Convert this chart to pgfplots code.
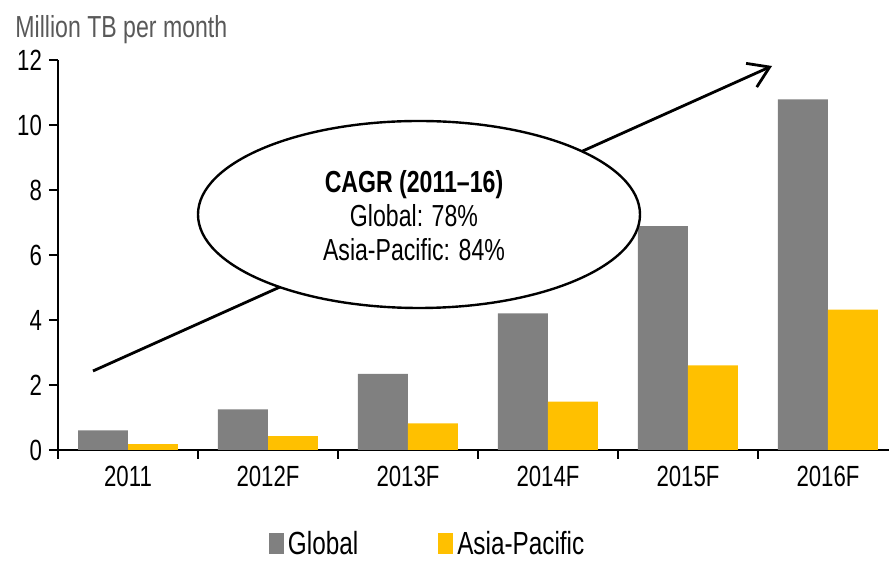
\documentclass[border=0pt]{standalone}
\usepackage{fontspec}
\setmainfont{Liberation Sans}[FakeStretch=0.76]
\usepackage{pgfplots}
\pgfplotsset{compat=1.18}
\usetikzlibrary{arrows.meta}
\definecolor{cgray}{HTML}{808080}
\definecolor{cgold}{HTML}{FFC000}
\definecolor{ctitle}{HTML}{595959}
\begin{document}
\begin{tikzpicture}
\path[use as bounding box] (-29pt,-55.5pt) rectangle (415.5pt,225pt);
\begin{axis}[
  at={(0,0)}, anchor=south west,
  scale only axis, width=415.5pt, height=195pt,
  xmin=-0.5, xmax=5.436, ymin=0, ymax=12,
  axis lines*=left,
  axis line style={line width=1pt},
  ytick={0,2,...,12},
  xtick={0,...,5},
  xticklabels={2011,2012F,2013F,2014F,2015F,2016F},
  minor xtick={-0.5,0.5,...,4.5},
  major x tick style={draw=none},
  minor x tick style={line width=1pt, black},
  major y tick style={line width=1pt, black},
  tick align=outside,
  major tick length=4.5pt, minor tick length=4.5pt,
  /pgf/number format/assume math mode=true,
  tick label style={font=\fontsize{14.6}{17}\selectfont},
  ybar, bar width=0.357,
  legend columns=2,
  legend style={at={(0.446,-0.243)}, anchor=center, draw=none,
    font=\fontsize{16}{19}\selectfont,
    nodes={inner xsep=2pt, inner ysep=0pt},
    /tikz/every even column/.append style={column sep=38pt}},
  legend image code/.code={\fill[#1] (0pt,-4.5pt) rectangle (7.5pt,6pt);},
]
\addplot[fill=cgray, draw=none, bar shift=-0.1786] coordinates {(0,0.6) (1,1.25) (2,2.34) (3,4.2) (4,6.89) (5,10.79)};
\addplot[fill=cgold, draw=none, bar shift=0.1786] coordinates {(0,0.18) (1,0.43) (2,0.82) (3,1.49) (4,2.6) (5,4.32)};
\legend{Global, Asia-Pacific}
\end{axis}
\begin{scope}[x=0.5pt,y=-0.5pt,shift={(-29pt,225pt)}]
\draw[line width=1.4pt, -{Straight Barb[length=10pt,width=13pt]}] (93,371) -- (772,66);
\draw[line width=1.2pt, fill=white] (419,214.5) ellipse [x radius=110.5pt, y radius=46.75pt];
\node[align=center, font=\fontsize{15.2}{17}\selectfont] at (414,216) {\textbf{CAGR (2011--16)}\\Global: 78\%\\Asia-Pacific: 84\%};
\node[anchor=base west, inner sep=0pt, text=ctitle, font=\fontsize{15.2}{17}\selectfont] at (15,38) {Million TB per month};
\end{scope}
\end{tikzpicture}
\end{document}
